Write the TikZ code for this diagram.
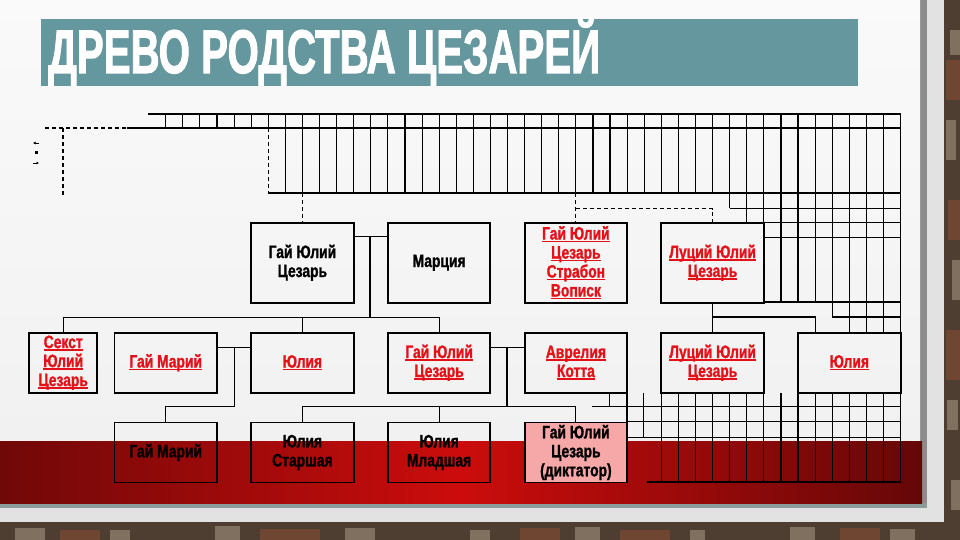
\documentclass[tikz,border=0pt]{standalone}
\usepackage{fontspec}
\usepackage{graphicx}
\usetikzlibrary{arrows.meta}
\setmainfont{Liberation Sans}
\newfontfamily\boxfont{Liberation Sans}[FakeStretch=0.77,FakeBold=1.2]
\newfontfamily\titlefont{Liberation Sans}[FakeBold=2]
\definecolor{brick}{RGB}{78,62,50}
\definecolor{brickl}{RGB}{128,112,96}
\definecolor{brickr}{RGB}{110,70,50}
\definecolor{panelc}{RGB}{226,226,226}
\definecolor{barc}{RGB}{140,140,140}
\definecolor{titlebg}{RGB}{101,151,158}
\definecolor{redL}{RGB}{112,8,8}
\definecolor{redM}{RGB}{204,12,12}
\definecolor{shadowc}{RGB}{140,155,155}
\definecolor{txtred}{RGB}{228,18,24}
\definecolor{pinkc}{RGB}{246,168,168}
\newcommand\ulx[1]{\setbox0=\hbox{#1}\rlap{\rule[-2.6pt]{\wd0}{1.4pt}}\box0}
\tikzset{
  box/.style={draw=black, line width=1.9pt, inner sep=0pt, minimum width=102.5pt,
    align=center, font=\boxfont\bfseries\fontsize{18}{19}\selectfont},
  redtxt/.style={text=txtred},
  grid/.style={draw=black, line width=1.1pt},
  conn/.style={draw=black, line width=1.1pt},
  dsh/.style={draw=black, line width=1.1pt, dash pattern=on 4pt off 3pt}
}
\begin{document}
\begin{tikzpicture}[x=1pt,y=-1pt]
\useasboundingbox (0,0) rectangle (960,540);
% brick background
\fill[brick] (0,0) rectangle (960,540);
\foreach \a/\b/\c/\d in {950/30/960/55, 946/120/956/160, 952/260/960/300, 947/400/958/430, 951/480/960/510,
  15/528/45/540, 110/530/130/540, 215/526/240/540, 345/528/375/540, 470/530/490/540, 575/527/600/540,
  690/530/705/540, 790/527/815/540, 890/529/915/540}
  {\fill[brickl] (\a,\b) rectangle (\c,\d);}
\foreach \a/\b/\c/\d in {946/60/960/100, 948/200/960/240, 946/330/960/380, 60/530/100/540, 260/529/320/540,
  520/528/560/540, 620/530/670/540, 840/528/880/540}
  {\fill[brickr] (\a,\b) rectangle (\c,\d);}
% panel
\fill[panelc] (0,0) rectangle (944,522);
\fill[barc] (920,0) rectangle (927,508);
\shade[top color=white!96!gray, bottom color=white!88!gray] (0,0) rectangle (920,503);
\fill[shadowc] (0,503) rectangle (927,508);
\shade[left color=redL, right color=redL!90!black, middle color=redM] (0,441) rectangle (922,503);
% title
\fill[titlebg] (41,19) rectangle (858,86);
\node[anchor=base west, inner sep=0pt, text=white] (title) at (48,73)
  {\resizebox{552pt}{\height}{\titlefont\bfseries\fontsize{61.5}{62}\selectfont ДРЕВО РОДСТВА ЦЕЗАРЕЙ}};
% tiny marks
\draw[line width=0.9pt, -{Latex[length=2.5pt,width=3pt]}] (39,143) -- (33,143);
\fill (35,151.5) rectangle (38,154.5);
\draw[line width=0.9pt, -{Latex[length=2.5pt,width=3pt]}] (33,163) -- (39,163);
% top grid
\draw[grid] (148,114) -- (900.7,114);
\draw[dsh] (45,128) -- (127,128);
\draw[grid] (127,128) -- (900.7,128);
\draw[dsh] (63,128) -- (63,197);
\foreach \k in {0,...,43} {\pgfmathsetmacro\xx{165.7+17.09*\k} \draw[grid] (\xx,114) -- (\xx,128);}
\draw[dsh] (268.2,128) -- (268.2,193);
\foreach \k in {7,...,32} {\pgfmathsetmacro\xx{165.7+17.09*\k} \draw[grid] (\xx,128) -- (\xx,193);}
\draw[grid] (729.7,128) -- (729.7,208.3);
\foreach \k in {34,35} {\pgfmathsetmacro\xx{165.7+17.09*\k} \draw[grid] (\xx,128) -- (\xx,222.7);}
\foreach \k in {36,37,38} {\pgfmathsetmacro\xx{165.7+17.09*\k} \draw[grid] (\xx,128) -- (\xx,302);}
\foreach \k in {39} {\pgfmathsetmacro\xx{165.7+17.09*\k} \draw[grid] (\xx,128) -- (\xx,317);}
\foreach \k in {40,41,42} {\pgfmathsetmacro\xx{165.7+17.09*\k} \draw[grid] (\xx,128) -- (\xx,332.7);}
\draw[grid] (900.7,114) -- (900.7,482);
\draw[grid] (268.2,193) -- (900.7,193);
\draw[grid] (729.7,208.3) -- (900.7,208.3);
\draw[grid] (764,222.7) -- (900.7,222.7);
\draw[grid] (764,237.5) -- (900.7,237.5);
\draw[grid] (764,302) -- (900.7,302);
\draw[grid] (832,317) -- (900.7,317);
% bottom grid
\draw[grid] (609.9,392.7) -- (609.9,406.7);
\draw[grid] (627,392.7) -- (627,422.7);
\draw[grid] (643.8,392.7) -- (643.8,438);
\foreach \k in {29,...,42} {\pgfmathsetmacro\xx{165.7+17.09*\k} \draw[grid] (\xx,392.7) -- (\xx,482);}
\draw[grid] (592,406.7) -- (900.7,406.7);
\draw[grid] (627,421.7) -- (900.7,421.7);
\draw[grid] (627,437.5) -- (900.7,437.5);
\draw[grid] (647,482) -- (900.7,482);
% boxes row 1
\node[box, minimum height=80pt] (A) at (302.4,262.7) {Гай Юлий\\Цезарь};
\node[box, minimum height=80pt] (B) at (439.1,262.7) {Марция};
\node[box, minimum height=80pt, redtxt] (C) at (575.9,262.7) {\ulx{Гай Юлий}\\\ulx{Цезарь}\\\ulx{Страбон}\\\ulx{Вописк}};
\node[box, minimum height=80pt, redtxt] (D) at (712.6,262.7) {\ulx{Луций Юлий}\\\ulx{Цезарь}};
% row 2
\node[box, minimum height=60pt, minimum width=68.4pt, redtxt] (E) at (63.2,362.7) {\ulx{Секст}\\\ulx{Юлий}\\\ulx{Цезарь}};
\node[box, minimum height=60pt, redtxt] (F) at (165.7,362.7) {\ulx{Гай Марий}};
\node[box, minimum height=60pt, redtxt] (G) at (302.4,362.7) {\ulx{Юлия}};
\node[box, minimum height=60pt, redtxt] (H) at (439.1,362.7) {\ulx{Гай Юлий}\\\ulx{Цезарь}};
\node[box, minimum height=60pt, redtxt] (I) at (575.9,362.7) {\ulx{Аврелия}\\\ulx{Котта}};
\node[box, minimum height=60pt, redtxt] (J) at (712.6,362.7) {\ulx{Луций Юлий}\\\ulx{Цезарь}};
\node[box, minimum height=60pt, redtxt] (K) at (849.3,362.7) {\ulx{Юлия}};
% row 3
\node[box, minimum height=60pt] (L) at (165.7,452.5) {Гай Марий};
\node[box, minimum height=60pt] (M) at (302.4,452.5) {Юлия\\Старшая};
\node[box, minimum height=60pt] (N) at (439.1,452.5) {Юлия\\Младшая};
\node[box, minimum height=60pt, fill=pinkc] (O) at (575.9,452.5) {Гай Юлий\\Цезарь\\(диктатор)};
% connectors
\coordinate (mAB) at (370,236.7);
\coordinate (bus1) at (370,317.3);
\draw[conn] (A.east |- mAB) -- (B.west |- mAB);
\draw[conn] (mAB) -- (bus1);
\draw[conn] (E.north |- bus1) -- (H.north |- bus1);
\draw[conn] (E.north |- bus1) -- (E.north);
\draw[conn] (G.north |- bus1) -- (G.north);
\draw[conn] (H.north |- bus1) -- (H.north);
\coordinate (mFG) at (234.3,347.3);
\coordinate (dFG) at (234.3,406.7);
\draw[conn] (F.east |- mFG) -- (G.west |- mFG);
\draw[conn] (mFG) -- (dFG) -- (L.north |- dFG) -- (L.north);
\coordinate (mHI) at (507,347.3);
\coordinate (dHI) at (507,406.7);
\draw[conn] (H.east |- mHI) -- (I.west |- mHI);
\draw[conn] (mHI) -- (dHI);
\draw[conn] (M.north |- dHI) -- (O.north |- dHI);
\draw[conn] (M.north |- dHI) -- (M.north);
\draw[conn] (N.north |- dHI) -- (N.north);
\draw[conn] (O.north |- dHI) -- (O.north);
\coordinate (dDJ) at (712.6,317);
\coordinate (kJ) at (815.4,317);
\draw[conn] (D.south) -- (J.north);
\draw[conn] (dDJ) -- (kJ) -- (kJ |- K.north);
% dashed links
\coordinate (tA) at (302.4,193);
\coordinate (tC) at (575.9,193);
\coordinate (dCD) at (575.9,208.5);
\draw[dsh] (tA) -- (A.north);
\draw[dsh] (tC) -- (C.north);
\draw[dsh] (dCD) -- (D.north |- dCD) -- (D.north);
\end{tikzpicture}
\end{document}
